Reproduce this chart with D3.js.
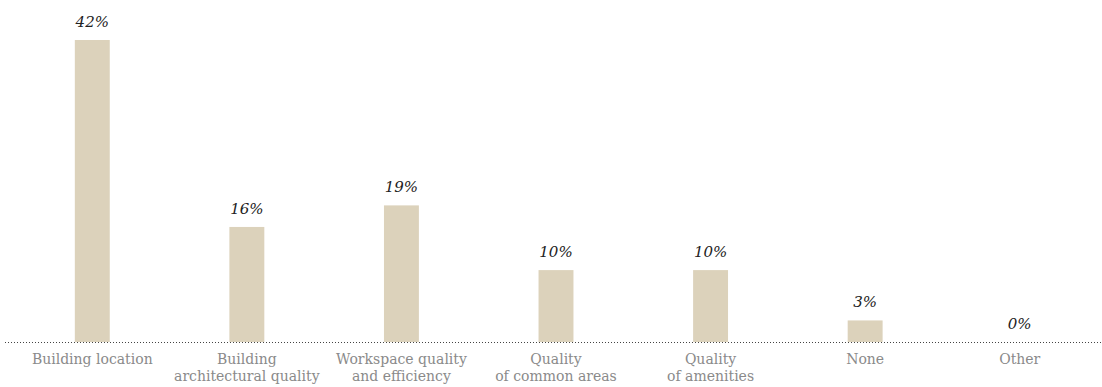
<!DOCTYPE html>
<html><head><meta charset="utf-8">
<script src="https://cdn.jsdelivr.net/npm/d3@7"></script>
<style>body{margin:0;background:#fff}</style>
</head><body>
<svg id="c" width="1102" height="387"></svg>
<script>
const categories = [
  ["Building location"],
  ["Building", "architectural quality"],
  ["Workspace quality", "and efficiency"],
  ["Quality", "of common areas"],
  ["Quality", "of amenities"],
  ["None"],
  ["Other"]
];
const values = [42, 16, 19, 10, 10, 3, 0];
const valueLabels = ["42%", "16%", "19%", "10%", "10%", "3%", "0%"];

const svg = d3.select("#c");
const baseY = 342;
const x = d3.scaleBand().domain(d3.range(categories.length)).range([15, 1097]).paddingInner(0.774).paddingOuter(0.387);
const y = d3.scaleLinear().domain([0, 42]).range([baseY, 40]);

svg.selectAll("rect.bar").data(values).join("rect")
  .attr("class", "bar")
  .attr("x", (d, i) => x(i))
  .attr("width", x.bandwidth())
  .attr("y", d => y(d))
  .attr("height", d => baseY - y(d))
  .attr("fill", "#dcd2bb");

svg.append("line").attr("x1", 5).attr("x2", 1101).attr("y1", baseY + 0.5).attr("y2", baseY + 0.5)
  .attr("stroke", "#444").attr("stroke-width", 1).attr("stroke-dasharray", "1,2");

svg.selectAll("text.val").data(values).join("text")
  .attr("class", "val")
  .attr("x", (d, i) => x(i) + x.bandwidth() / 2)
  .attr("y", d => y(d) - 13)
  .attr("text-anchor", "middle")
  .attr("font-family", "DejaVu Serif, serif")
  .attr("font-style", "italic")
  .attr("font-size", 15)
  .attr("fill", "#222")
  .text((d, i) => valueLabels[i]);

const lab = svg.selectAll("text.cat").data(categories).join("text")
  .attr("class", "cat")
  .attr("text-anchor", "middle")
  .attr("font-family", "DejaVu Serif, serif")
  .attr("font-size", 14)
  .attr("fill", "#8a8a8a");
lab.each(function(lines, i) {
  const t = d3.select(this);
  lines.forEach((l, j) => {
    t.append("tspan").attr("x", x(i) + x.bandwidth() / 2).attr("y", 364 + j * 17).text(l);
  });
});
</script>
</body></html>
